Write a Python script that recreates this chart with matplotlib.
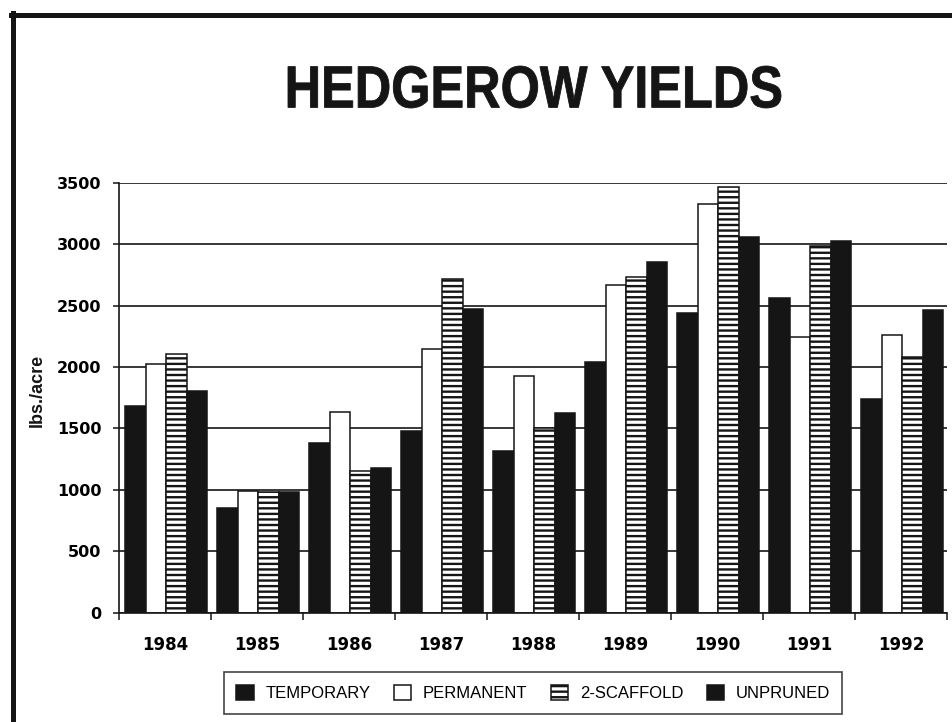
import numpy as np
import matplotlib
matplotlib.use('Agg')
from matplotlib import pyplot as plt
from matplotlib.lines import Line2D
from matplotlib.patches import PathPatch
from matplotlib.textpath import TextPath
from matplotlib.font_manager import FontProperties
from matplotlib.transforms import Affine2D, IdentityTransform

# values (lbs./acre)
years = ['1984', '1985', '1986', '1987', '1988', '1989', '1990', '1991', '1992']
temporary = [1685, 855, 1380, 1480, 1315, 2040, 2440, 2560, 1740]
permanent = [2025, 990, 1635, 2145, 1925, 2665, 3325, 2245, 2260]
scaffold = [2105, 985, 1150, 2715, 1505, 2730, 3465, 2985, 2080]
unpruned = [1805, 980, 1180, 2470, 1625, 2855, 3060, 3025, 2465]
series_names = ['TEMPORARY', 'PERMANENT', '2-SCAFFOLD', 'UNPRUNED']
y_ticks = [0, 500, 1000, 1500, 2000, 2500, 3000, 3500]
title = 'HEDGEROW YIELDS'

ink = '#151515'
W, H = 953, 722
plt.rcParams['hatch.linewidth'] = 1.7

fig = plt.figure(figsize=(W / 100, H / 100), dpi=100)
ax = fig.add_axes([0.1249, 0.1514, 0.8688, 0.5956])

x = np.arange(len(years))
w = 0.224
styles = [
    dict(color=ink, edgecolor=ink),
    dict(color='white', edgecolor=ink),
    dict(color='white', edgecolor=ink, hatch='---'),
    dict(color=ink, edgecolor=ink),
]
for i, (vals, st) in enumerate(zip([temporary, permanent, scaffold, unpruned], styles)):
    ax.bar(x + (i - 1.5) * w + 0.013, vals, w, linewidth=1.1,
           label=series_names[i], zorder=2, **st)

ax.set_xlim(-0.5, len(years) - 0.5)
ax.set_ylim(0, 3500)
ax.set_yticks(y_ticks)
ax.set_yticklabels([str(v) for v in y_ticks], fontfamily='DejaVu Sans',
                   fontweight='bold', fontsize=11.5)
ax.set_xticks(x)
ax.set_xticklabels(years, fontfamily='DejaVu Sans', fontweight='bold', fontsize=12)
ax.set_xticks(np.arange(-0.5, len(years)), minor=True)
ax.tick_params(axis='x', which='major', length=0, pad=17)
ax.tick_params(axis='x', which='minor', length=5, width=1.1, direction='out', color=ink)
ax.tick_params(axis='y', length=4.5, width=1.1, pad=8, color=ink)

ax.yaxis.grid(True, color=ink, linewidth=1.2)
ax.set_axisbelow(True)
for s in ['top', 'right']:
    ax.spines[s].set_visible(False)
for s in ['left', 'bottom']:
    ax.spines[s].set_color(ink)
    ax.spines[s].set_linewidth(1.2)

fig.text(37.5 / W, 1 - 390 / H, 'lbs./acre', rotation=90, ha='center', va='center',
         fontfamily='Liberation Sans', fontweight='bold', fontsize=13, color=ink)

# title: condensed bold face, squeezed into the box it takes on the scan
tp = TextPath((0, 0), title, size=50,
              prop=FontProperties(family='Liberation Sans', weight='bold'))
ext = tp.get_extents()
left, right, top, bottom = 288, 781, 66, 108
sx = (right - left) / ext.width
sy = (bottom - top) / ext.height
tr = (Affine2D().translate(-ext.x0, -ext.y0).scale(sx, sy)
      .translate(left, H - bottom))
fig.add_artist(PathPatch(tr.transform_path(tp), facecolor=ink, edgecolor=ink,
                         linewidth=0.6, transform=IdentityTransform()))

leg = fig.legend(loc='center', bbox_to_anchor=(533 / W, 1 - 693 / H), ncol=4,
                 prop={'family': 'Liberation Sans', 'size': 12},
                 handlelength=1.05, handleheight=1.05, handletextpad=0.7,
                 columnspacing=1.4, borderpad=0.75, fancybox=False, frameon=True)
leg.get_frame().set_edgecolor(ink)
leg.get_frame().set_linewidth(1.2)

# page frame: top and left edges
fig.add_artist(Line2D([11 / W, 1], [1 - 15 / H, 1 - 15 / H], color=ink,
                      linewidth=3.6, transform=fig.transFigure))
fig.add_artist(Line2D([13.5 / W, 13.5 / W], [1 - 13 / H, 0], color=ink,
                      linewidth=3.6, transform=fig.transFigure))

fig.savefig('out.png', dpi=100)
